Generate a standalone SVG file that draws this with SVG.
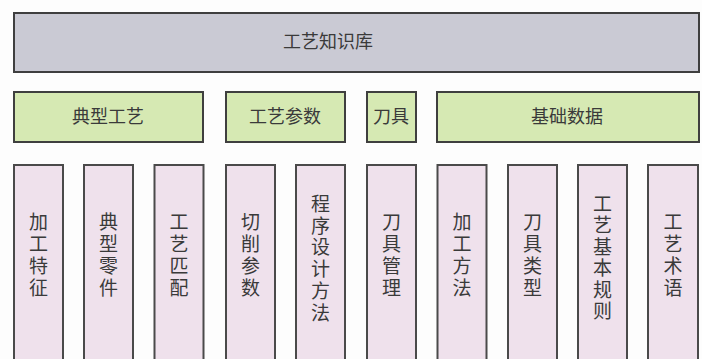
<svg xmlns="http://www.w3.org/2000/svg" width="702" height="359" viewBox="0 0 702 359">
<style>
text{font-family:"Noto Sans CJK SC","Noto Sans CJK TC",sans-serif;fill:#3a3a3a;text-anchor:middle}
.top{fill:#cacad4;stroke:#3f3f3f;stroke-width:2}
.mid{fill:#d6e9b3;stroke:#3f3f3f;stroke-width:2}
.leaf{fill:#efe1ec;stroke:#4a4a4a;stroke-width:2}
.h{font-size:18px}
.v{font-size:19px}
</style>
<rect width="702" height="359" fill="#fdfdfd"/>
<g id="root"><rect class="top" x="14" y="13" width="685" height="59"/><text class="h" x="328" y="48">工艺知识库</text></g>
<g id="n-dxgy"><rect class="mid" x="14" y="92" width="189" height="50"/><text class="h" x="108" y="123">典型工艺</text></g>
<g id="n-gycs"><rect class="mid" x="226" y="92" width="119" height="50"/><text class="h" x="285" y="123">工艺参数</text></g>
<g id="n-dj"><rect class="mid" x="367" y="92" width="49" height="50"/><text class="h" x="391" y="123">刀具</text></g>
<g id="n-jcsj"><rect class="mid" x="437" y="92" width="262" height="50"/><text class="h" x="567" y="123">基础数据</text></g>
<g id="l1"><rect class="leaf" x="14" y="165" width="49" height="200"/><text class="v" x="38.5" y="229"><tspan x="38.5">加</tspan><tspan x="38.5" dy="22">工</tspan><tspan x="38.5" dy="22">特</tspan><tspan x="38.5" dy="22">征</tspan></text></g>
<g id="l2"><rect class="leaf" x="84" y="165" width="49" height="200"/><text class="v" x="108.5" y="229"><tspan x="108.5">典</tspan><tspan x="108.5" dy="22">型</tspan><tspan x="108.5" dy="22">零</tspan><tspan x="108.5" dy="22">件</tspan></text></g>
<g id="l3"><rect class="leaf" x="154.5" y="165" width="49" height="200"/><text class="v" x="179" y="229"><tspan x="179">工</tspan><tspan x="179" dy="22">艺</tspan><tspan x="179" dy="22">匹</tspan><tspan x="179" dy="22">配</tspan></text></g>
<g id="l4"><rect class="leaf" x="226" y="165" width="49" height="200"/><text class="v" x="250.5" y="229"><tspan x="250.5">切</tspan><tspan x="250.5" dy="22">削</tspan><tspan x="250.5" dy="22">参</tspan><tspan x="250.5" dy="22">数</tspan></text></g>
<g id="l5"><rect class="leaf" x="296" y="165" width="49" height="200"/><text class="v" x="320.5" y="211"><tspan x="320.5">程</tspan><tspan x="320.5" dy="21.7">序</tspan><tspan x="320.5" dy="21.7">设</tspan><tspan x="320.5" dy="21.7">计</tspan><tspan x="320.5" dy="21.7">方</tspan><tspan x="320.5" dy="21.7">法</tspan></text></g>
<g id="l6"><rect class="leaf" x="367" y="165" width="49" height="200"/><text class="v" x="391.5" y="229"><tspan x="391.5">刀</tspan><tspan x="391.5" dy="22">具</tspan><tspan x="391.5" dy="22">管</tspan><tspan x="391.5" dy="22">理</tspan></text></g>
<g id="l7"><rect class="leaf" x="437.5" y="165" width="49" height="200"/><text class="v" x="462" y="229"><tspan x="462">加</tspan><tspan x="462" dy="22">工</tspan><tspan x="462" dy="22">方</tspan><tspan x="462" dy="22">法</tspan></text></g>
<g id="l8"><rect class="leaf" x="508" y="165" width="49" height="200"/><text class="v" x="532.5" y="229"><tspan x="532.5">刀</tspan><tspan x="532.5" dy="22">具</tspan><tspan x="532.5" dy="22">类</tspan><tspan x="532.5" dy="22">型</tspan></text></g>
<g id="l9"><rect class="leaf" x="578" y="165" width="49" height="200"/><text class="v" x="602.5" y="211"><tspan x="602.5">工</tspan><tspan x="602.5" dy="21.4">艺</tspan><tspan x="602.5" dy="21.4">基</tspan><tspan x="602.5" dy="21.4">本</tspan><tspan x="602.5" dy="21.4">规</tspan><tspan x="602.5" dy="21.4">则</tspan></text></g>
<g id="l10"><rect class="leaf" x="648" y="165" width="50" height="200"/><text class="v" x="673" y="229"><tspan x="673">工</tspan><tspan x="673" dy="22">艺</tspan><tspan x="673" dy="22">术</tspan><tspan x="673" dy="22">语</tspan></text></g>
<g id="connectors"></g>
</svg>
